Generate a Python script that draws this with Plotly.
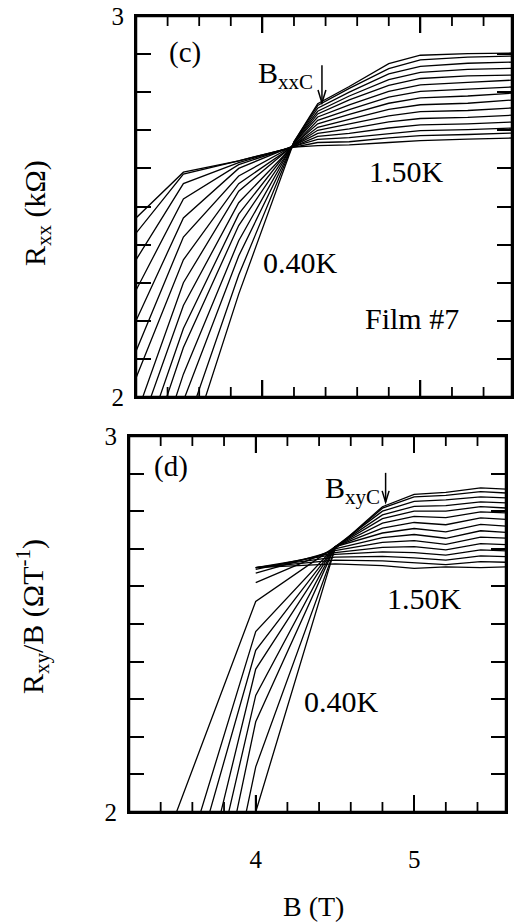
import plotly.graph_objects as go

# Magnetic field grid (T) for panel (c), Rxx
B_C = [3.2, 3.5, 3.85, 4.2, 4.35, 4.55, 4.8, 5.0, 5.3, 5.6]

# Rxx (kOhm) isotherms, first row = 0.40 K ... last row = 1.50 K
RXX = [
    [1.45, 1.82, 2.27, 2.670, 2.770, 2.815, 2.875, 2.897, 2.901, 2.903],
    [1.52, 1.90, 2.32, 2.670, 2.765, 2.810, 2.862, 2.885, 2.892, 2.895],
    [1.60, 1.99, 2.37, 2.668, 2.758, 2.800, 2.848, 2.868, 2.876, 2.879],
    [1.68, 2.06, 2.41, 2.668, 2.750, 2.790, 2.833, 2.852, 2.860, 2.863],
    [1.76, 2.13, 2.45, 2.665, 2.743, 2.780, 2.818, 2.836, 2.843, 2.845],
    [1.82, 2.18, 2.48, 2.665, 2.735, 2.767, 2.802, 2.819, 2.826, 2.832],
    [1.89, 2.24, 2.51, 2.663, 2.726, 2.754, 2.787, 2.802, 2.808, 2.814],
    [1.95, 2.30, 2.54, 2.662, 2.717, 2.742, 2.771, 2.785, 2.790, 2.798],
    [2.05, 2.36, 2.56, 2.660, 2.708, 2.729, 2.755, 2.767, 2.771, 2.780],
    [2.12, 2.42, 2.58, 2.660, 2.700, 2.716, 2.738, 2.749, 2.752, 2.759],
    [2.20, 2.47, 2.60, 2.660, 2.692, 2.704, 2.722, 2.731, 2.734, 2.740],
    [2.28, 2.52, 2.61, 2.658, 2.684, 2.692, 2.706, 2.714, 2.717, 2.722],
    [2.36, 2.56, 2.615, 2.657, 2.676, 2.681, 2.692, 2.699, 2.702, 2.706],
    [2.43, 2.585, 2.62, 2.656, 2.668, 2.670, 2.680, 2.686, 2.689, 2.693],
    [2.47, 2.59, 2.62, 2.656, 2.660, 2.662, 2.668, 2.673, 2.677, 2.680],
]

# Magnetic field grid (T) for panel (d), Rxy/B
B_D = [3.5, 4.0, 4.5, 4.8, 5.0, 5.2, 5.42, 5.6]

# Rxy/B (Ohm/T) isotherms, first row = 0.40 K ... last row = 1.50 K
RXY = [
    [1.00, 2.00, 2.700, 2.812, 2.845, 2.850, 2.862, 2.858],
    [1.12, 2.12, 2.700, 2.808, 2.838, 2.842, 2.852, 2.848],
    [1.24, 2.24, 2.705, 2.800, 2.826, 2.830, 2.838, 2.835],
    [1.40, 2.31, 2.705, 2.790, 2.813, 2.815, 2.825, 2.822],
    [1.515, 2.38, 2.705, 2.780, 2.800, 2.800, 2.812, 2.808],
    [1.69, 2.43, 2.705, 2.768, 2.786, 2.783, 2.798, 2.795],
    [1.79, 2.48, 2.705, 2.755, 2.770, 2.764, 2.782, 2.778],
    [2.00, 2.56, 2.705, 2.742, 2.754, 2.745, 2.765, 2.760],
    [None, 2.610, 2.700, 2.730, 2.738, 2.728, 2.748, 2.743],
    [None, 2.635, 2.695, 2.717, 2.722, 2.712, 2.731, 2.728],
    [None, 2.645, 2.690, 2.704, 2.706, 2.697, 2.714, 2.711],
    [None, 2.650, 2.685, 2.692, 2.690, 2.683, 2.697, 2.694],
    [None, 2.650, 2.678, 2.680, 2.676, 2.670, 2.681, 2.679],
    [None, 2.650, 2.670, 2.668, 2.663, 2.658, 2.666, 2.664],
    [None, 2.650, 2.660, 2.655, 2.648, 2.652, 2.650, 2.652],
]

X_RANGE = [3.2, 5.58]
Y_RANGE = [2, 3]
X_MAJOR = [4, 5]
X_MAJOR_TEXT = ["4", "5"]
X_MINOR = [3.4, 3.6, 3.8, 4.2, 4.4, 4.6, 4.8, 5.2, 5.4]
Y_MAJOR = [2, 3]
Y_MAJOR_TEXT = ["2\u2009", "3\u2009"]
Y_MINOR = [2.1, 2.2, 2.3, 2.4, 2.5, 2.6, 2.7, 2.8, 2.9]

FONT = "Liberation Serif"
W, H = 516, 922
LINE = dict(color="black", width=1.3)
INK = "black"

fig = go.Figure()
for r in RXX:
    fig.add_trace(go.Scatter(x=B_C, y=r, mode="lines", line=LINE,
                             xaxis="x", yaxis="y", showlegend=False,
                             hoverinfo="skip"))
for r in RXY:
    fig.add_trace(go.Scatter(x=B_D, y=r, mode="lines", line=LINE,
                             xaxis="x2", yaxis="y2", showlegend=False,
                             hoverinfo="skip"))

TICKFONT = dict(family=FONT, size=25, color=INK)
COMMON = dict(showline=True, linecolor=INK, linewidth=2,
              mirror="ticks", showgrid=False, zeroline=False,
              automargin=False, ticks="inside", tickcolor=INK,
              tickwidth=1.8, tickfont=TICKFONT)


def xax(domain, anchor, labels):
    return dict(domain=domain, anchor=anchor, range=X_RANGE,
                tickmode="array", tickvals=X_MAJOR, ticktext=X_MAJOR_TEXT,
                ticklen=17, showticklabels=labels, ticklabelstandoff=24,
                **COMMON)


def yax(domain, anchor):
    return dict(domain=domain, anchor=anchor, range=Y_RANGE,
                tickmode="array", tickvals=Y_MAJOR, ticktext=Y_MAJOR_TEXT,
                ticklen=15,
                minor=dict(tickmode="array", tickvals=Y_MINOR,
                           ticks="inside", ticklen=15, tickwidth=1.8,
                           tickcolor=INK, showgrid=False),
                **COMMON)


dom_x_top = [136 / W, 512 / W]
dom_y_top = [1 - 397 / H, 1 - 16 / H]
dom_x_bot = [129 / W, 506 / W]
dom_y_bot = [1 - 812 / H, 1 - 436 / H]

fig.update_layout(
    template="none",
    width=W, height=H, autosize=False,
    margin=dict(l=0, r=0, t=0, b=0, pad=0),
    paper_bgcolor="white", plot_bgcolor="white",
    font=dict(family=FONT, color=INK),
    showlegend=False,
    xaxis=xax(dom_x_top, "y", False),
    yaxis=yax(dom_y_top, "x"),
    xaxis2=xax(dom_x_bot, "y2", True),
    yaxis2=yax(dom_y_bot, "x2"),
)


# box outline and field ticks on top and bottom edges of each panel
def frame_and_ticks(xa, ya, y_dom):
    px_per_unit = (y_dom[1] - y_dom[0]) * H / (Y_RANGE[1] - Y_RANGE[0])
    lo, hi = Y_RANGE
    x0, x1 = X_RANGE
    fig.add_trace(go.Scatter(
        x=[x0, x1, x1, x0, x0], y=[lo, lo, hi, hi, lo], mode="lines",
        line=dict(color=INK, width=2.5), cliponaxis=False,
        xaxis=xa, yaxis=ya, showlegend=False, hoverinfo="skip"))
    tx, ty = [], []
    for vals, length in ((X_MAJOR, 17), (X_MINOR, 10)):
        d = length / px_per_unit
        for v in vals:
            tx += [v, v, None, v, v, None]
            ty += [lo, lo + d, None, hi, hi - d, None]
    fig.add_trace(go.Scatter(
        x=tx, y=ty, mode="lines", line=dict(color=INK, width=1.8),
        cliponaxis=False, xaxis=xa, yaxis=ya, showlegend=False,
        hoverinfo="skip"))


frame_and_ticks("x", "y", dom_y_top)
frame_and_ticks("x2", "y2", dom_y_bot)


def label(text, x, y, xr, yr, size=30, **kw):
    fig.add_annotation(text=text, x=x, y=y, xref=xr, yref=yr,
                       showarrow=False, yanchor="middle",
                       font=dict(family=FONT, size=size, color=INK),
                       **kw)


# panel (c) labels
label("(c)", 3.51, 2.903, "x", "y", size=29)
label("B<sub>xxC</sub>", 4.33, 2.845, "x", "y", xanchor="right")
label("1.50K", 4.91, 2.591, "x", "y")
label("0.40K", 4.244, 2.352, "x", "y")
label("Film #7", 4.947, 2.207, "x", "y")

# panel (d) labels
label("(d)", 3.466, 2.918, "x2", "y2", size=29)
label("B<sub>xyC</sub>", 4.80, 2.856, "x2", "y2", xanchor="right")
label("1.50K", 5.067, 2.569, "x2", "y2")
label("0.40K", 4.542, 2.295, "x2", "y2")

# axis titles
label("R<sub>xx</sub> (kΩ)", 37 / W, 1 - 213 / H, "paper", "paper",
      textangle=-90, xanchor="center")
label("R<sub>xy</sub>/B (ΩT<sup>-1</sup>)", 32 / W, 1 - 617 / H,
      "paper", "paper", textangle=-90, xanchor="center")
label("B (T)", 313 / W, 1 - 906 / H, "paper", "paper", size=28,
      xanchor="center")


# critical-field arrows
def arrow(xr, yr, bx, y_top, y_tip, hw, hh):
    fig.add_shape(type="line", xref=xr, yref=yr, x0=bx, x1=bx,
                  y0=y_top, y1=y_tip, line=dict(color=INK, width=1.5))
    fig.add_shape(type="path", xref=xr, yref=yr,
                  path=f"M {bx - hw},{y_tip + hh} L {bx},{y_tip} "
                       f"L {bx + hw},{y_tip + hh}",
                  line=dict(color=INK, width=1.5))


arrow("x", "y", 4.377, 2.871, 2.772, 0.025, 0.034)
arrow("x2", "y2", 4.82, 2.902, 2.824, 0.022, 0.03)

fig.write_html("out.html")
